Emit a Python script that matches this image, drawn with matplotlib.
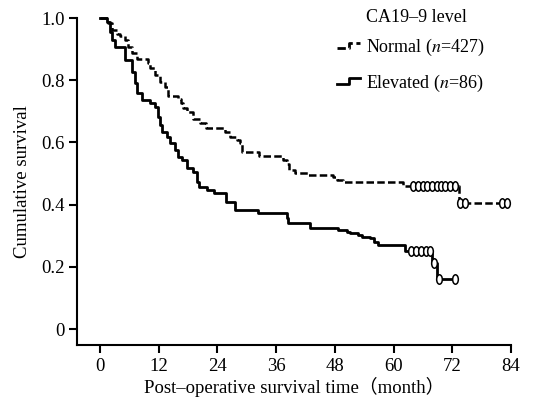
import matplotlib
matplotlib.use("Agg")
import matplotlib.pyplot as plt
from matplotlib.lines import Line2D
from matplotlib.legend_handler import HandlerBase
from matplotlib.path import Path
from matplotlib.transforms import Affine2D

plt.rcParams['font.family'] = ['Liberation Serif', 'Noto Sans CJK SC', 'DejaVu Serif']
plt.rcParams['mathtext.fontset'] = 'stix'

# ---- data ----
normal_time = [0, 1.7, 2.4, 3.4, 4.1, 5.1, 5.8, 6.5, 7.5, 9.8, 10.2, 11.2, 12.3, 13.2,
               13.9, 16.0, 16.6, 17.0, 17.7, 19.1, 20.4, 21.6, 25.6, 26.6, 28.0, 28.6,
               29.0, 32.4, 37.5, 38.2, 38.6, 39.9, 42.6, 47.7, 48.4, 49.7, 62.0, 73.4, 83.2]
normal_surv = [1.0, 0.985, 0.962, 0.950, 0.942, 0.928, 0.908, 0.886, 0.868, 0.855, 0.838,
               0.817, 0.795, 0.778, 0.750, 0.740, 0.728, 0.710, 0.698, 0.677, 0.662, 0.645,
               0.634, 0.618, 0.608, 0.597, 0.570, 0.558, 0.543, 0.532, 0.512, 0.502, 0.495,
               0.489, 0.479, 0.473, 0.460, 0.404, 0.404]
normal_cens_time = [64.0, 65.0, 66.0, 66.9, 67.8, 68.8, 69.7, 70.6, 71.6, 72.6, 73.6, 74.6, 82.1, 83.2]
normal_cens_surv = [0.460] * 10 + [0.404] * 4

elev_time = [0, 1.4, 2.0, 2.4, 3.1, 5.1, 6.5, 7.2, 7.6, 8.5, 10.2, 11.2, 11.9, 12.3, 12.6,
             13.6, 14.3, 15.3, 16.0, 16.7, 17.7, 19.1, 19.8, 20.3, 21.8, 23.3, 25.8, 27.6,
             32.2, 38.2, 38.5, 43.0, 48.7, 50.4, 51.1, 52.8, 53.5, 55.2, 55.9, 56.9, 62.4,
             67.9, 68.9, 72.5]
elev_surv = [1.0, 0.988, 0.956, 0.930, 0.908, 0.865, 0.827, 0.790, 0.758, 0.736, 0.726,
             0.715, 0.683, 0.655, 0.634, 0.618, 0.597, 0.576, 0.554, 0.543, 0.517, 0.506,
             0.474, 0.456, 0.447, 0.436, 0.409, 0.384, 0.373, 0.357, 0.341, 0.325, 0.318,
             0.313, 0.308, 0.302, 0.297, 0.292, 0.281, 0.270, 0.250, 0.214, 0.160, 0.160]
elev_cens_time = [63.6, 64.6, 65.6, 66.6, 67.4, 68.3, 69.2, 72.5]
elev_cens_surv = [0.250] * 5 + [0.214, 0.160, 0.160]

x_ticks = [0, 12, 24, 36, 48, 60, 72, 84]
y_ticks = [0, 0.2, 0.4, 0.6, 0.8, 1.0]
y_ticklabels = ["0", "0.2", "0.4", "0.6", "0.8", "1.0"]
labels = ["Normal ($\\mathit{n}$=427)", "Elevated ($\\mathit{n}$=86)"]
legend_title = "CA19–9 level"

# ---- figure ----
fig = plt.figure(figsize=(5.52, 4.04), dpi=100)
ax = fig.add_axes([0.1395, 0.146, 0.7862, 0.8094])

ellipse = Path.unit_circle().transformed(Affine2D().scale(0.6, 1.0))

ax.step(normal_time, normal_surv, where='post', color='black', lw=1.8,
        linestyle=(0, (3.0, 1.3)), clip_on=False)
ax.plot(normal_cens_time, normal_cens_surv, linestyle='none', marker=ellipse,
        markersize=6.8, markerfacecolor='white', markeredgecolor='black',
        markeredgewidth=1.1, clip_on=False)

ax.step(elev_time, elev_surv, where='post', color='black', lw=2.0, clip_on=False)
ax.plot(elev_cens_time, elev_cens_surv, linestyle='none', marker=ellipse,
        markersize=6.8, markerfacecolor='white', markeredgecolor='black',
        markeredgewidth=1.1, clip_on=False)

ax.set_xlim(-4.7, 84)
ax.set_ylim(-0.051, 1.0)
ax.set_xticks(x_ticks)
ax.set_yticks(y_ticks)
ax.set_yticklabels(y_ticklabels)
for s in ['top', 'right']:
    ax.spines[s].set_visible(False)
for s in ['left', 'bottom']:
    ax.spines[s].set_linewidth(1.5)
ax.tick_params(axis='both', direction='out', length=6, width=1.5, labelsize=13.5, pad=3)

ax.set_xlabel("Post–operative survival time（month）", fontsize=13.5, labelpad=2)
ax.set_ylabel("Cumulative survival", fontsize=13.5, labelpad=7)


class StepHandler(HandlerBase):
    def __init__(self, dashed):
        super().__init__()
        self.dashed = dashed

    def create_artists(self, legend, orig_handle, xdescent, ydescent, width, height,
                       fontsize, trans):
        x0 = -xdescent
        y0 = -ydescent
        xs = [x0, x0 + width * 0.55, x0 + width * 0.55, x0 + width]
        ys = [y0 + height * 0.3, y0 + height * 0.3, y0 + height * 0.75, y0 + height * 0.75]
        ls = (0, (3.0, 1.3)) if self.dashed else '-'
        ln = Line2D(xs, ys, color='black', lw=2.0, linestyle=ls, transform=trans)
        return [ln]


h1 = Line2D([], [], color='black')
h2 = Line2D([], [], color='black')
leg = fig.legend([h1, h2], labels, loc='upper left',
                 bbox_to_anchor=(337 / 552, 1 - 37 / 404), frameon=False, fontsize=13,
                 handlelength=1.25, handletextpad=0.35, borderpad=0, borderaxespad=0,
                 labelspacing=0.8,
                 handler_map={h1: StepHandler(True), h2: StepHandler(False)})
fig.text(366 / 552, 1 - 18 / 404, legend_title, fontsize=13, ha='left', va='center')

fig.savefig("out.png", dpi=100)
